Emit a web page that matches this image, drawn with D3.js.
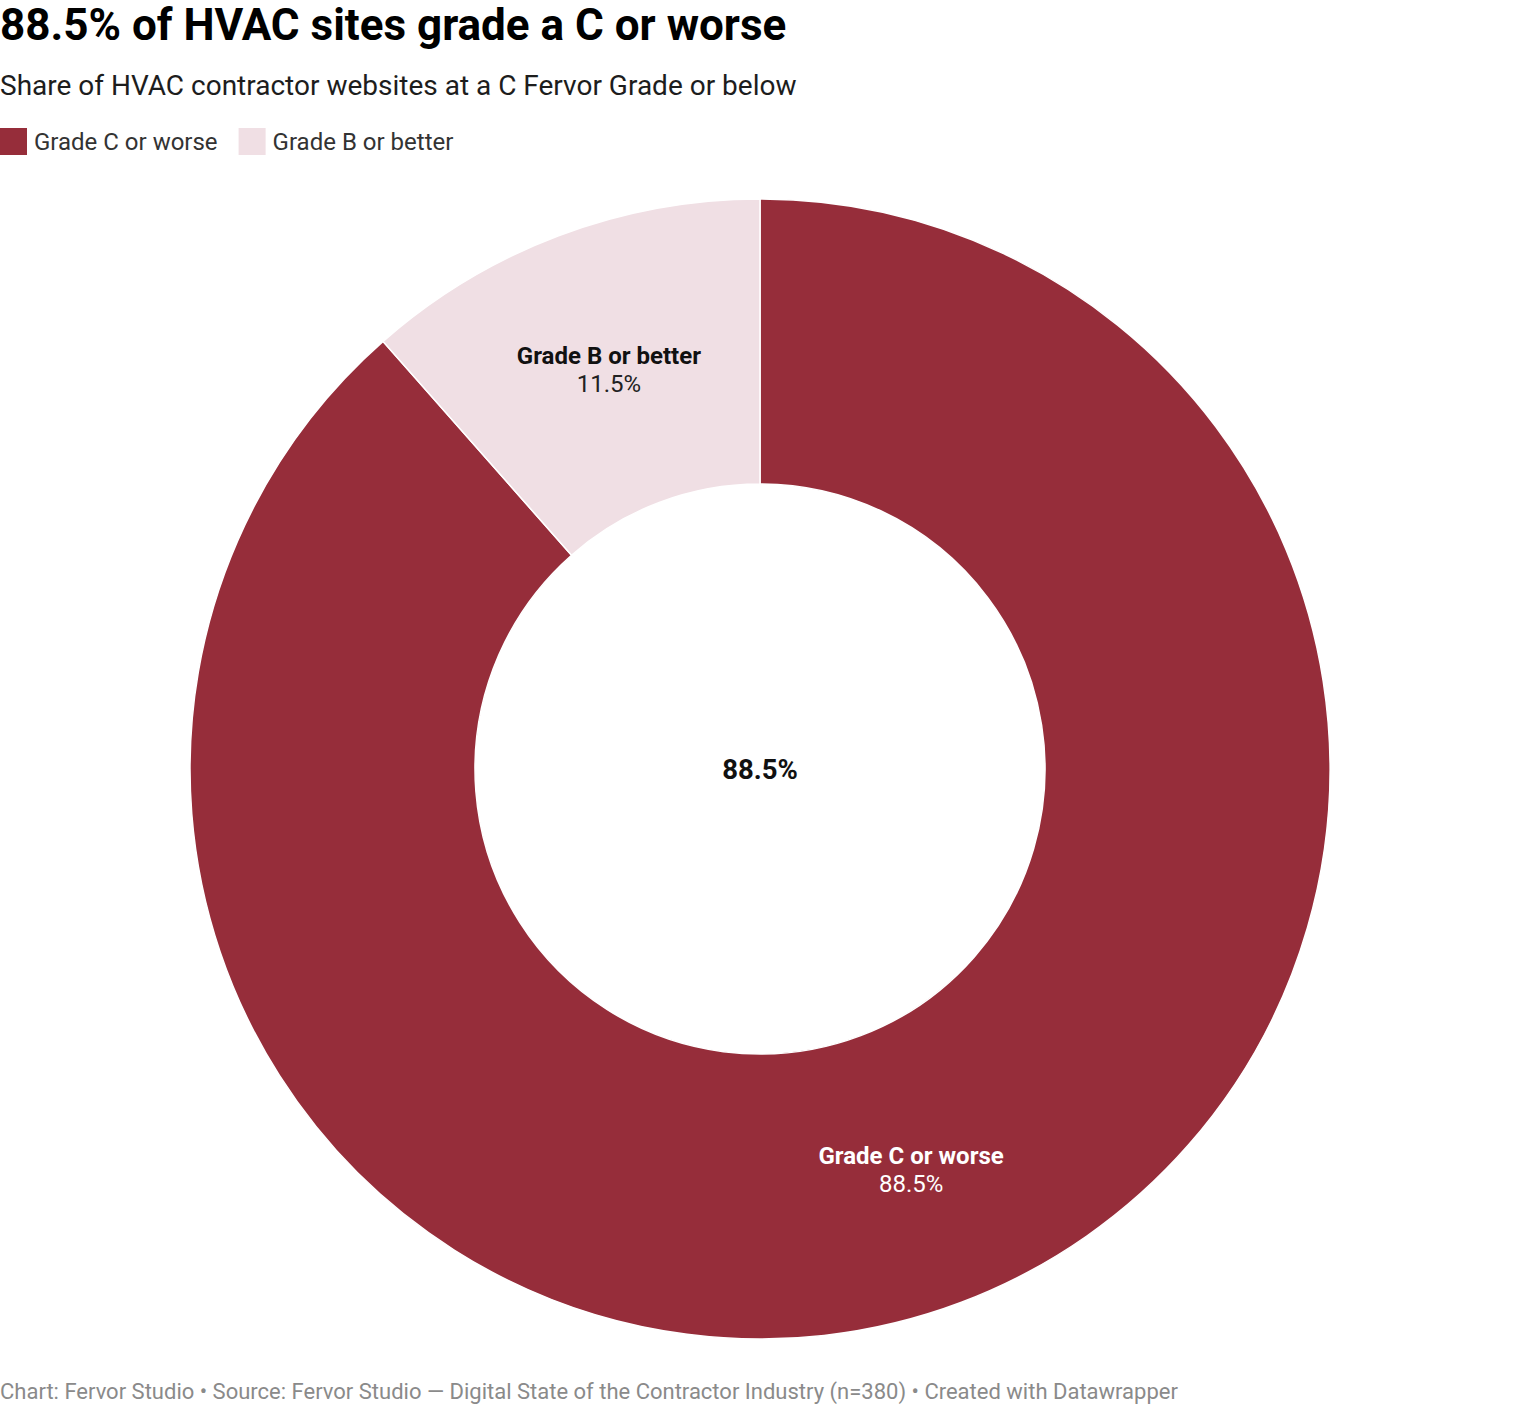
<!DOCTYPE html>
<html>
<head>
<meta charset="utf-8">
<script src="https://cdn.jsdelivr.net/npm/d3@7"></script>
<style>
body { margin: 0; background: #fff; font-family: Roboto, "Noto Sans", sans-serif; }
</style>
</head>
<body>
<svg id="chart"></svg>
<script>
(function() {
"use strict";

var categories = ["Grade C or worse", "Grade B or better"];
var values = [88.5, 11.5];
var colors = ["#962d3a", "#f0dfe4"];
var centerLabel = "88.5%";

var W = 1520, H = 1406;
var cx = 760, cy = 769, outer = 570, inner = 285;

var svg = d3.select("#chart").attr("width", W).attr("height", H);

svg.append("text").attr("x", 0).attr("y", 40)
    .attr("font-size", 44).attr("font-weight", 700).attr("fill", "#000")
    .text("88.5% of HVAC sites grade a C or worse");
svg.append("text").attr("x", 0).attr("y", 95)
    .attr("font-size", 28).attr("fill", "#1d1d1d")
    .text("Share of HVAC contractor websites at a C Fervor Grade or below");

// legend
var lx = 0;
var legend = svg.append("g");
categories.forEach(function(c, i) {
    legend.append("rect").attr("x", lx).attr("y", 128)
        .attr("width", 27).attr("height", 27).attr("fill", colors[i]);
    var t = legend.append("text").attr("x", lx + 34).attr("y", 150)
        .attr("font-size", 24).attr("fill", "#333").text(c);
    lx += 34 + t.node().getComputedTextLength() + 21;
});

var pie = d3.pie().sort(null).value(function(d) { return d; });
var arc = d3.arc().innerRadius(inner).outerRadius(outer);
var arcs = pie(values);

var g = svg.append("g").attr("transform", "translate(" + cx + "," + cy + ")");
g.selectAll("path.slice")
    .data(arcs)
    .enter().append("path")
        .attr("class", "slice")
        .attr("d", arc)
        .attr("fill", function(d, i) { return colors[i]; })
        .attr("stroke", "#fff")
        .attr("stroke-width", 1.5);

var lab = g.selectAll("g.lab")
    .data(arcs)
    .enter().append("g")
        .attr("class", "lab")
        .attr("transform", function(d) { return "translate(" + arc.centroid(d) + ")"; });
lab.append("text")
    .attr("text-anchor", "middle").attr("y", -5)
    .attr("font-size", 24).attr("font-weight", 700)
    .attr("fill", function(d, i) { return i === 0 ? "#fff" : "#111"; })
    .text(function(d, i) { return categories[i]; });
lab.append("text")
    .attr("text-anchor", "middle").attr("y", 23)
    .attr("font-size", 24)
    .attr("fill", function(d, i) { return i === 0 ? "#fff" : "#222"; })
    .text(function(d) { return d.value.toFixed(1) + "%"; });

g.append("text").attr("text-anchor", "middle").attr("y", 10)
    .attr("font-size", 27.5).attr("font-weight", 700).attr("fill", "#111")
    .text(centerLabel);

svg.append("text").attr("x", 0).attr("y", 1399)
    .attr("font-size", 22).attr("fill", "#8a8a8a")
    .text("Chart: Fervor Studio \u2022 Source: Fervor Studio \u2014 Digital State of the Contractor Industry (n=380) \u2022 Created with Datawrapper");
}());
</script>
</body>
</html>
